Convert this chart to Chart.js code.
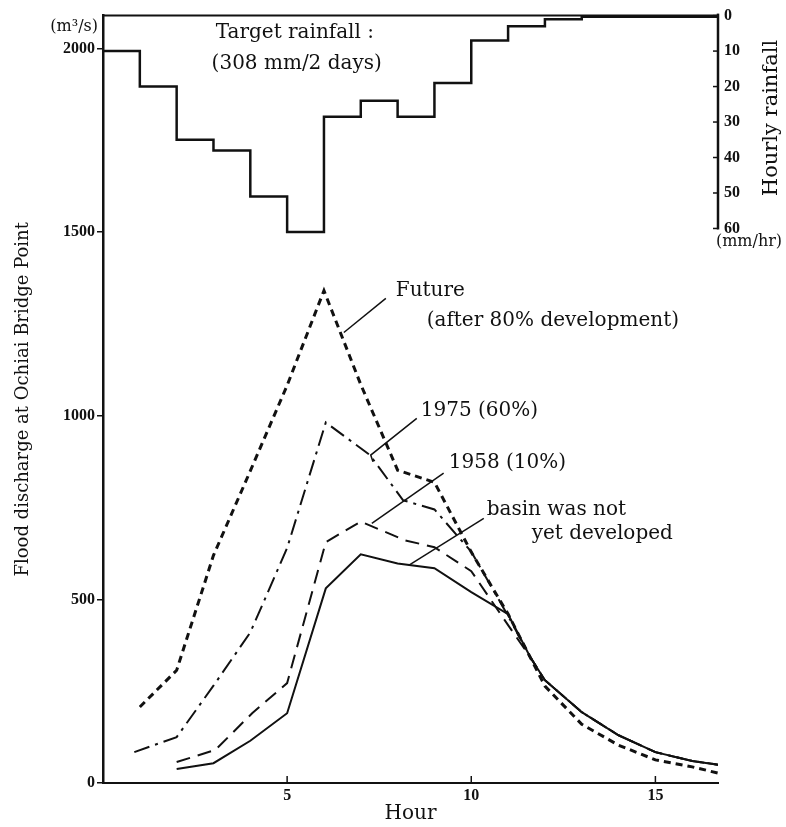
<!DOCTYPE html>
<html>
<head>
<meta charset="utf-8">
<script src="https://cdn.jsdelivr.net/npm/chart.js@4"></script>
<style>
  body { margin: 0; background: #fff; }
  canvas { display: block; }
</style>
</head>
<body>
<canvas id="flood-chart" width="786" height="827"></canvas>
<script>
// axis ticks
const hourTicks = [5, 10, 15];
const dischargeTicks = [0, 500, 1000, 1500, 2000];
const rainTicks = [0, 10, 20, 30, 40, 50, 60];

// target rainfall (mm/hr), value holds from each hour to the next
const rainHours = [0, 1, 2, 3, 4, 5, 6, 7, 8, 9, 10, 11, 12, 13, 16.7];
const rainMm = [10, 20, 35, 38, 51, 61, 28.5, 24, 28.5, 19, 7, 3, 1, 0.3, 0.3];

// flood discharge (m3/s)
const futureHours = [1, 2, 3, 4, 5, 6, 7, 8, 9, 10, 11, 12, 13, 14, 15, 16, 16.7];
const futureQ = [207, 307, 620, 850, 1083, 1341, 1085, 852, 819, 629, 460, 264, 160, 103, 63, 44, 27];

const y1975Hours = [0.85, 2, 3, 4, 5, 6.05, 7.25, 8.15, 9, 10, 11, 11.6, 12, 13, 14, 15, 16, 16.7];
const y1975Q = [84, 125, 265, 410, 640, 982, 893, 770, 745, 630, 455, 343, 280, 193, 130, 84, 60, 50];

const y1958Hours = [2, 3.05, 4.05, 5, 6.05, 7, 8.2, 9, 10, 11, 11.6, 12, 13, 14, 15, 16, 16.7];
const y1958Q = [57, 90, 190, 272, 656, 712, 661, 642, 577, 430, 343, 280, 193, 130, 84, 60, 50];

const naturalHours = [2, 3, 4, 5, 6.05, 7, 8, 9, 10, 11, 11.6, 12, 13, 14, 15, 16, 16.7];
const naturalQ = [38, 54, 115, 190, 530, 623, 598, 585, 520, 460, 343, 280, 193, 130, 84, 60, 50];

// labels on the plot, placed in (hour, discharge) units
const notes = [
    { text: 'Target rainfall :', x: 5.21, y: 2044, align: 'center' },
    { text: '(308 mm/2 days)', x: 5.26, y: 1959, align: 'center' },
    { text: 'Future', x: 7.95, y: 1341, align: 'left' },
    { text: '(after 80% development)', x: 8.79, y: 1260, align: 'left' },
    { text: '1975 (60%)', x: 8.63, y: 1015, align: 'left' },
    { text: '1958 (10%)', x: 9.39, y: 873, align: 'left' },
    { text: 'basin was not', x: 10.42, y: 743, align: 'left' },
    { text: 'yet developed', x: 11.64, y: 680, align: 'left' }
];

const leaders = [
    [[7.68, 1320], [6.54, 1227]],
    [[8.52, 993], [7.27, 893], [7.33, 875]],
    [[9.25, 844], [7.3, 707]],
    [[10.34, 721], [8.3, 593]]
];

const serif = 'DejaVu Serif';
const tickFamily = 'Liberation Serif';

function pairs(xs, ys) {
    return xs.map((x, i) => ({ x: x, y: ys[i] }));
}

function series(label, xs, ys, dash, width, axis) {
    return {
        label: label,
        data: pairs(xs, ys),
        borderColor: '#111',
        borderWidth: width,
        borderDash: dash,
        pointRadius: 0,
        tension: 0,
        fill: false,
        yAxisID: axis || 'y'
    };
}

const extras = {
    id: 'extras',
    afterDraw(chart) {
        const ctx = chart.ctx;
        const area = chart.chartArea;
        const sx = chart.scales.x;
        const sy = chart.scales.y;
        const sr = chart.scales.rain;
        ctx.save();
        ctx.strokeStyle = '#111';
        ctx.fillStyle = '#111';

        // top frame
        ctx.lineWidth = 2;
        ctx.beginPath();
        ctx.moveTo(area.left, area.top);
        ctx.lineTo(area.right, area.top);
        ctx.stroke();

        // right (rain) axis line, only over 0-60
        const r60 = sr.getPixelForValue(60);
        ctx.lineWidth = 2.5;
        ctx.beginPath();
        ctx.moveTo(area.right, area.top - 2);
        ctx.lineTo(area.right, r60 + 1);
        ctx.stroke();
        ctx.lineWidth = 1.5;
        rainTicks.forEach(v => {
            const py = sr.getPixelForValue(v);
            ctx.beginPath();
            ctx.moveTo(area.right, py);
            ctx.lineTo(area.right - 5, py);
            ctx.stroke();
        });

        // hour ticks point up into the plot
        hourTicks.forEach(v => {
            const px = sx.getPixelForValue(v);
            ctx.beginPath();
            ctx.moveTo(px, area.bottom);
            ctx.lineTo(px, area.bottom - 7);
            ctx.stroke();
        });

        // unit labels and rain axis title
        ctx.font = '16px ' + serif;
        ctx.textBaseline = 'middle';
        ctx.textAlign = 'right';
        ctx.fillText('(m\u00b3/s)', area.left - 5, 27);
        ctx.textAlign = 'center';
        ctx.fillText('(mm/hr)', 749, r60 + 13);

        ctx.save();
        ctx.font = '21px ' + serif;
        ctx.translate(772, (area.top + r60) / 2 - 4);
        ctx.rotate(-Math.PI / 2);
        ctx.fillText('Hourly rainfall', 0, 0);
        ctx.restore();

        // leader lines
        ctx.lineWidth = 1.5;
        leaders.forEach(pts => {
            ctx.beginPath();
            pts.forEach((p, i) => {
                const px = sx.getPixelForValue(p[0]);
                const py = sy.getPixelForValue(p[1]);
                if (i === 0) ctx.moveTo(px, py);
                else ctx.lineTo(px, py);
            });
            ctx.stroke();
        });

        // notes
        ctx.font = '20px ' + serif;
        notes.forEach(n => {
            ctx.textAlign = n.align;
            ctx.fillText(n.text, sx.getPixelForValue(n.x), sy.getPixelForValue(n.y));
        });
        ctx.restore();
    }
};

const tickFont = { family: tickFamily, size: 16, weight: 'bold' };
const plainLabel = v => String(v);

const rainSeries = series('Target rainfall', rainHours, rainMm, [], 2.5, 'rain');
rainSeries.stepped = 'before';

new Chart(document.getElementById('flood-chart'), {
    type: 'line',
    data: {
        datasets: [
            rainSeries,
            series('Future (after 80% development)', futureHours, futureQ, [7, 5], 3),
            series('1975 (60%)', y1975Hours, y1975Q, [16, 6, 3, 6], 2),
            series('1958 (10%)', y1958Hours, y1958Q, [14, 8], 2),
            series('basin was not yet developed', naturalHours, naturalQ, [], 2)
        ]
    },
    options: {
        responsive: false,
        animation: false,
        devicePixelRatio: 1,
        layout: { padding: { top: 15, left: 0, right: 0, bottom: 0 } },
        plugins: {
            legend: { display: false },
            tooltip: { enabled: false }
        },
        scales: {
            x: {
                type: 'linear',
                min: 0,
                max: 16.7,
                afterFit: s => { s.height = 44; },
                afterBuildTicks: s => { s.ticks = hourTicks.map(v => ({ value: v })); },
                ticks: { font: tickFont, color: '#111', padding: 3, maxRotation: 0, callback: plainLabel },
                grid: { display: false, drawTicks: false },
                border: { display: true, color: '#111', width: 2 },
                title: {
                    display: true,
                    text: 'Hour',
                    font: { family: serif, size: 20 },
                    color: '#111',
                    padding: { top: 0, bottom: 1 }
                }
            },
            y: {
                type: 'linear',
                position: 'left',
                min: 0,
                max: 2090,
                afterFit: s => { s.width = 103; },
                afterBuildTicks: s => { s.ticks = dischargeTicks.map(v => ({ value: v })); },
                ticks: { font: tickFont, color: '#111', padding: 2, callback: plainLabel },
                grid: { drawOnChartArea: false, drawTicks: true, tickLength: 6, color: '#111', lineWidth: 1.5 },
                border: { display: true, color: '#111', width: 2.5 },
                title: {
                    display: true,
                    text: 'Flood discharge at Ochiai Bridge Point',
                    font: { family: serif, size: 18 },
                    color: '#111',
                    padding: { top: 13, bottom: 0 }
                }
            },
            rain: {
                type: 'linear',
                position: 'right',
                reverse: true,
                min: 0,
                max: 216.3,
                afterFit: s => { s.width = 68; },
                afterBuildTicks: s => { s.ticks = rainTicks.map(v => ({ value: v })); },
                ticks: { font: tickFont, color: '#111', padding: 6, callback: plainLabel },
                grid: { display: false, drawTicks: false },
                border: { display: false }
            }
        }
    },
    plugins: [extras]
});
</script>
</body>
</html>
